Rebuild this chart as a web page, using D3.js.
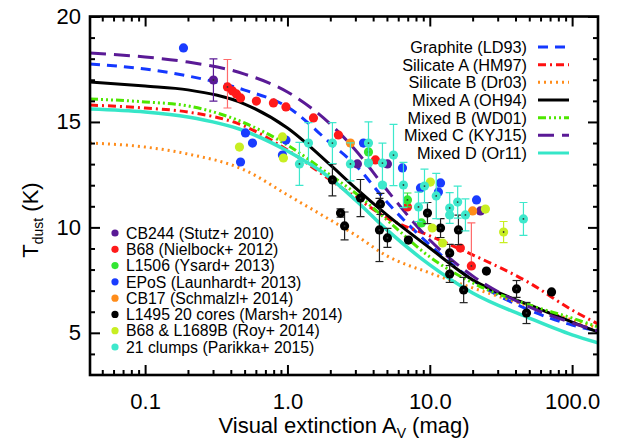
<!DOCTYPE html>
<html>
<head>
<meta charset="utf-8">
<script src="https://cdn.jsdelivr.net/npm/d3@7"></script>
<style>
  html, body { margin: 0; padding: 0; background: #fff; }
  svg { display: block; font-family: "Liberation Sans", Arial, sans-serif; }
</style>
</head>
<body>
<script>
// model curves, sampled at these extinctions
let avGrid = [0.041, 0.1, 0.2, 0.5, 1, 2, 3, 5, 10, 20, 50, 100, 152];
let graphite  = [17.75, 17.51, 17.18, 16.51, 15.71, 14.0, 12.96, 11.2, 9.17, 7.51, 6.08, 5.37, 5.09];
let silicateA = [15.8, 15.66, 15.47, 14.8, 13.67, 12.25, 11.44, 10.45, 9.6, 8.7, 7.37, 6.08, 5.42];
let silicateB = [14.0, 13.81, 13.48, 12.72, 11.54, 10.35, 9.64, 8.65, 7.84, 7.13, 6.27, 5.61, 5.23];
let mixedA    = [16.89, 16.7, 16.52, 15.85, 14.71, 12.96, 11.87, 10.59, 9.02, 7.51, 6.32, 5.51, 5.04];
let mixedB    = [16.09, 15.95, 15.76, 14.95, 13.9, 12.48, 11.63, 10.35, 8.6, 7.37, 6.32, 5.7, 5.28];
let mixedC    = [18.27, 18.08, 17.84, 17.27, 16.42, 14.9, 13.67, 11.77, 9.4, 7.7, 6.23, 5.47, 5.09];
let mixedD    = [15.61, 15.47, 15.23, 14.57, 13.62, 12.34, 11.3, 9.88, 8.22, 6.89, 5.7, 4.9, 4.52];

let curveNames = ["Graphite (LD93)", "Silicate A (HM97)", "Silicate B (Dr03)", "Mixed A (OH94)",
                  "Mixed B (WD01)", "Mixed C (KYJ15)", "Mixed D (Or11)"];

// observations: [Av, T, errDown, errUp]
let cb244 = [[0.302, 16.99, 1.0, 1.0], [3.10, 13.01], [5.04, 13.01], [22.7, 10.78]];
let b68 = [[0.379, 16.66, 1.0, 1.3], [0.411, 16.47], [0.438, 16.33], [0.468, 16.14], [0.605, 15.99],
           [0.797, 15.9], [0.976, 15.71], [1.523, 15.19], [2.28, 14.38], [4.15, 13.2], [6.97, 10.97],
           [16.4, 9.02], [19.6, 8.17, 0.1, 2.04]];
let l1506 = [[3.71, 13.58, 0.38, 0.42], [6.97, 11.3, 0.33, 0.33], [8.74, 10.21]];
let epos = [[0.186, 18.51], [0.507, 14.48], [0.568, 14.0], [0.468, 13.1], [0.976, 14.14], [0.922, 13.43],
            [3.42, 14.0], [6.43, 12.82], [8.6, 11.87], [11.9, 12.11], [11.5, 11.68], [21.3, 11.3]];
let cb17 = [[2.77, 14.0], [20.0, 10.78]];
let l1495 = [[2.07, 12.25, 0.76, 0.76], [2.36, 10.68, 0.2, 0.2], [2.52, 10.07, 0.66, 0.66], [3.26, 11.39, 0.88, 0.88],
             [4.5, 11.11, 0.5, 0.5], [4.43, 9.88, 1.5, 1.5], [5.04, 9.5, 0.45, 0.45], [7.08, 9.4],
             [9.63, 10.68, 0.5, 0.5], [11.9, 9.97, 0.45, 0.45], [15.9, 9.88, 0.7, 0.7], [13.8, 8.79, 0.4, 0.4],
             [13.8, 7.79, 0.4, 0.4], [17.3, 7.03, 0.6, 0.6], [25.0, 7.93], [40.7, 7.08, 0.4, 0.4],
             [47.8, 5.94, 0.5, 0.5], [71.7, 6.94]];
let roy = [[0.46, 13.81], [0.922, 14.29], [0.937, 13.29], [10.1, 12.15], [10.4, 9.97], [12.3, 9.26],
           [24.6, 10.87], [33.0, 9.78, 0.5, 0.5]];
let parikka = [[1.214, 13.01, 1.02, 1.02], [1.405, 14.0, 0.97, 0.97], [2.07, 14.0, 0.97, 0.97],
               [2.77, 13.01, 0.8, 1.0], [3.71, 14.0, 1.0, 1.0], [3.71, 13.05], [4.65, 13.05, 0.95, 0.95],
               [5.56, 13.43, 1.45, 1.45], [4.65, 12.01], [6.53, 12.01, 1.07, 1.07], [8.33, 10.97, 0.7, 0.7],
               [9.18, 11.96, 0.8, 0.8], [11.1, 11.49, 1.07, 1.07], [13.8, 10.92, 0.73, 0.73], [13.8, 10.59],
               [15.7, 11.2, 0.76, 0.76], [17.8, 10.59, 0.76, 0.76], [45.5, 10.4, 0.78, 0.78]];

let sampleNames = ["CB244 (Stutz+ 2010)", "B68 (Nielbock+ 2012)", "L1506 (Ysard+ 2013)",
                   "EPoS (Launhardt+ 2013)", "CB17 (Schmalzl+ 2014)", "L1495 20 cores (Marsh+ 2014)",
                   "B68 & L1689B (Roy+ 2014)", "21 clumps (Parikka+ 2015)"];

let xTicks = [0.1, 1, 10, 100];
let xTickLabels = ["0.1", "1.0", "10.0", "100.0"];
let yTicks = [5, 10, 15, 20];

let W = 618, H = 441;
let box = { left: 90, right: 598, top: 16.5, bottom: 375 };

let svg = d3.select("body").append("svg").attr("width", W).attr("height", H);

let scaleX = d3.scaleLog().domain([0.041, 152]).range([box.left, box.right]);
let scaleY = d3.scaleLinear().domain([3, 20]).range([box.bottom, box.top]);

let curves = [
  { name: curveNames[0], values: graphite,  color: "#1438ff", dash: "10,7", width: 3 },
  { name: curveNames[1], values: silicateA, color: "#ff1010", dash: "8,4,2,4", width: 3 },
  { name: curveNames[2], values: silicateB, color: "#ff8c1a", dash: "2,4", width: 3 },
  { name: curveNames[3], values: mixedA,    color: "#000000", dash: null, width: 3 },
  { name: curveNames[4], values: mixedB,    color: "#4ee600", dash: "8,3,2,3,2,3,2,3", width: 3 },
  { name: curveNames[5], values: mixedC,    color: "#5a1a96", dash: "16,8", width: 3 },
  { name: curveNames[6], values: mixedD,    color: "#36e6c8", dash: null, width: 3.5 }
];

let samples = [
  { name: sampleNames[0], data: cb244,   color: "#5a1a96", err: "#5a1a96" },
  { name: sampleNames[1], data: b68,     color: "#ff1a1a", err: "#ff6a6a" },
  { name: sampleNames[2], data: l1506,   color: "#33e633", err: "#33e633" },
  { name: sampleNames[3], data: epos,    color: "#1a3cff", err: "#1a3cff" },
  { name: sampleNames[4], data: cb17,    color: "#ff8c1a", err: "#ff8c1a" },
  { name: sampleNames[5], data: l1495,   color: "#000000", err: "#222222" },
  { name: sampleNames[6], data: roy,     color: "#c8ee22", err: "#c8ee22" },
  { name: sampleNames[7], data: parikka, color: "#3ee8cc", err: "#3ee8cc" }
];

svg.append("clipPath").attr("id", "plotclip").append("rect")
  .attr("x", box.left).attr("y", box.top)
  .attr("width", box.right - box.left).attr("height", box.bottom - box.top);

let line = d3.line()
  .x((d) => scaleX(d[0]))
  .y((d) => scaleY(d[1]))
  .curve(d3.curveMonotoneX);

let DrawCurves = () =>
{
  let g = svg.append("g").attr("clip-path", "url(#plotclip)");
  curves.forEach((c) =>
  {
    g.append("path")
      .datum(avGrid.map((a, i) => [a, c.values[i]]))
      .attr("d", line)
      .attr("fill", "none")
      .attr("stroke", c.color)
      .attr("stroke-width", c.width)
      .attr("stroke-dasharray", c.dash);
  });
}

let DrawPoints = () =>
{
  let g = svg.append("g").attr("clip-path", "url(#plotclip)");
  samples.forEach((s) =>
  {
    let withErr = s.data.filter((d) => d.length > 2);
    let bars = g.selectAll(null).data(withErr).enter().append("g")
      .attr("stroke", s.err).attr("stroke-width", 1.2);
    bars.append("line")
      .attr("x1", (d) => scaleX(d[0])).attr("x2", (d) => scaleX(d[0]))
      .attr("y1", (d) => scaleY(d[1] - d[2])).attr("y2", (d) => scaleY(d[1] + d[3]));
    bars.append("line")
      .attr("x1", (d) => scaleX(d[0]) - 4).attr("x2", (d) => scaleX(d[0]) + 4)
      .attr("y1", (d) => scaleY(d[1] - d[2])).attr("y2", (d) => scaleY(d[1] - d[2]));
    bars.append("line")
      .attr("x1", (d) => scaleX(d[0]) - 4).attr("x2", (d) => scaleX(d[0]) + 4)
      .attr("y1", (d) => scaleY(d[1] + d[3])).attr("y2", (d) => scaleY(d[1] + d[3]));
    g.selectAll(null).data(s.data).enter().append("circle")
      .attr("cx", (d) => scaleX(d[0]))
      .attr("cy", (d) => scaleY(d[1]))
      .attr("r", 4.6)
      .attr("fill", s.color);
    g.selectAll(null).data(withErr).enter().append("circle")
      .attr("cx", (d) => scaleX(d[0]))
      .attr("cy", (d) => scaleY(d[1]))
      .attr("r", 0.9)
      .attr("fill", "#333");
  });
}

let DrawAxis = () =>
{
  let minorX = [];
  [0.01, 0.1, 1, 10, 100].forEach((p) =>
  {
    for (let k = 2; k <= 9; k++) minorX.push(p * k);
  });
  minorX = minorX.filter((v) => v > 0.041 && v < 152);
  let minorY = d3.range(4, 20).filter((v) => v % 5 != 0);

  let ax = [
    { pos: "bottom", maker: d3.axisBottom, scale: scaleX, t: "translate(0," + box.bottom + ")", major: xTicks, minor: minorX },
    { pos: "top", maker: d3.axisTop, scale: scaleX, t: "translate(0," + box.top + ")", major: xTicks, minor: minorX },
    { pos: "left", maker: d3.axisLeft, scale: scaleY, t: "translate(" + box.left + ",0)", major: yTicks, minor: minorY },
    { pos: "right", maker: d3.axisRight, scale: scaleY, t: "translate(" + box.right + ",0)", major: yTicks, minor: minorY }
  ];
  ax.forEach((a) =>
  {
    let g = svg.append("g").attr("transform", a.t);
    g.call(a.maker(a.scale).tickValues(a.minor).tickSize(-5).tickFormat(""));
    let gm = svg.append("g").attr("transform", a.t);
    let axis = a.maker(a.scale).tickValues(a.major).tickSize(-10);
    if (a.pos == "bottom") axis.tickPadding(18).tickFormat((d, i) => xTickLabels[i]);
    else if (a.pos == "left") axis.tickPadding(9).tickFormat(d3.format("d"));
    else axis.tickFormat("");
    gm.call(axis);
    [g, gm].forEach((s) =>
    {
      s.select(".domain").remove();
      s.selectAll("line").attr("stroke", "#000").attr("stroke-width", 2);
      s.selectAll("text").attr("font-size", "22px").attr("fill", "#000")
        .attr("font-family", "Liberation Sans, Arial, sans-serif");
    });
  });

  svg.append("rect")
    .attr("x", box.left).attr("y", box.top)
    .attr("width", box.right - box.left).attr("height", box.bottom - box.top)
    .attr("fill", "none").attr("stroke", "#000").attr("stroke-width", 2.6);
}

let DrawText = () =>
{
  let xl = svg.append("text")
    .attr("x", 344).attr("y", 433)
    .attr("text-anchor", "middle")
    .attr("font-size", "22px");
  xl.append("tspan").text("Visual extinction A");
  xl.append("tspan").text("V").attr("font-size", "14px").attr("dy", 5);
  xl.append("tspan").text(" (mag)").attr("dy", -5);

  let yl = svg.append("text")
    .attr("transform", "translate(38,220) rotate(-90)")
    .attr("text-anchor", "middle")
    .attr("font-size", "22px");
  yl.append("tspan").text("T");
  yl.append("tspan").text("dust").attr("font-size", "14px").attr("dy", 5);
  yl.append("tspan").text(" (K)").attr("dy", -5);
}

let DrawLegend = () =>
{
  let rowY = d3.scaleLinear().domain([0, 6]).range([47, 153]);
  let lg = svg.append("g");
  curves.forEach((c, i) =>
  {
    lg.append("text").text(c.name)
      .attr("x", 527).attr("y", rowY(i)).attr("dy", "0.36em")
      .attr("text-anchor", "end").attr("font-size", "16.3px");
    lg.append("line")
      .attr("x1", 538).attr("x2", 569).attr("y1", rowY(i)).attr("y2", rowY(i))
      .attr("stroke", c.color).attr("stroke-width", 3)
      .attr("stroke-dasharray", c.dash);
  });

  let rowY2 = d3.scaleLinear().domain([0, 7]).range([233, 347]);
  let lg2 = svg.append("g");
  samples.forEach((s, i) =>
  {
    lg2.append("circle").attr("cx", 115).attr("cy", rowY2(i)).attr("r", 3.6).attr("fill", s.color);
    lg2.append("text").text(s.name)
      .attr("x", 126).attr("y", rowY2(i)).attr("dy", "0.36em")
      .attr("font-size", "15.8px");
  });
}

DrawCurves();
DrawPoints();
DrawAxis();
DrawText();
DrawLegend();
</script>
</body>
</html>
